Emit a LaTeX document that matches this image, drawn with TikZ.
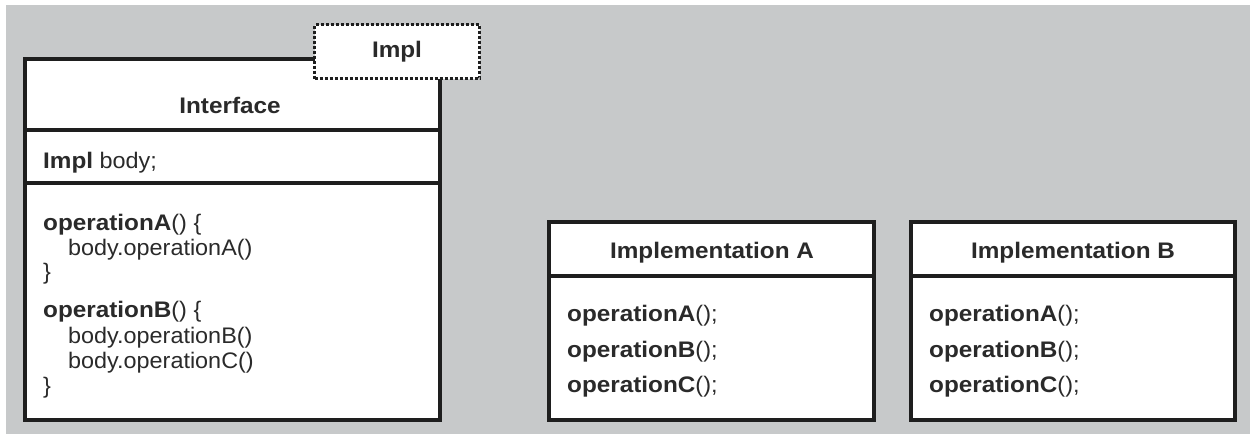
\documentclass[tikz,border=0pt]{standalone}
\usepackage{fontspec}
\setmainfont{Liberation Sans}[FakeStretch=1.04]
\newfontfamily\hbfam{Liberation Sans}[FakeStretch=1.08]
\newcommand{\Bx}[1]{{\hbfam\bfseries #1}}
\definecolor{bggrey}{HTML}{C7C9CA}
\definecolor{ink}{HTML}{1E1E1E}
\definecolor{txt}{HTML}{2A2A2A}
\tikzset{
  boxline/.style={draw=ink, line width=3.6pt, fill=white},
  divline/.style={draw=ink, line width=3.2pt},
  dashbox/.style={draw=ink, line width=3.4pt, fill=white, dash pattern=on 3pt off 2pt},
  tl/.style={anchor=base west, inner sep=0pt, text=txt, font=\fontsize{22.5}{25}\selectfont},
  tc/.style={anchor=base, inner sep=0pt, text=txt, font=\fontsize{22.5}{25}\selectfont},
}
\begin{document}
\begin{tikzpicture}[x=1pt,y=-1pt]
\useasboundingbox (0,0) rectangle (1250,434);
\fill[white] (0,0) rectangle (1250,434);
\fill[bggrey] (6,5) rectangle (1250,434);

% Interface class
\draw[boxline] (25,59) rectangle (440,420);
\draw[divline] (25,130) -- (440,130);
\draw[divline] (25,183) -- (440,183);
\node[dashbox, minimum width=165pt, minimum height=54pt, anchor=north west] (impl) at (313,23) {};
\node[tc] (impltxt) at (397,57) {\Bx{Impl}};
\node[tc] (iface) at (230,113) {\Bx{Interface}};
\node[tl] (field) at (43,168) {\Bx{Impl} body;};
\node[tl] (l1) at (43,230) {\Bx{operationA}() \{};
\node[tl] (l2) at (68,255) {body.operationA()};
\node[tl] (l3) at (43,279) {\}};
\node[tl] (l4) at (43,317) {\Bx{operationB}() \{};
\node[tl] (l5) at (68,343) {body.operationB()};
\node[tl] (l6) at (68,368) {body.operationC()};
\node[tl] (l7) at (43,393) {\}};

% Implementation A
\draw[boxline] (549,222) rectangle (874,420);
\draw[divline] (549,276) -- (874,276);
\node[tc] (ta) at (712,258) {\Bx{Implementation A}};
\node[tl] (a1) at (567,321) {\Bx{operationA}();};
\node[tl] (a2) at (567,357) {\Bx{operationB}();};
\node[tl] (a3) at (567,392) {\Bx{operationC}();};

% Implementation B
\draw[boxline] (911,222) rectangle (1235,420);
\draw[divline] (911,276) -- (1235,276);
\node[tc] (tb) at (1073,258) {\Bx{Implementation B}};
\node[tl] (b1) at (929,321) {\Bx{operationA}();};
\node[tl] (b2) at (929,357) {\Bx{operationB}();};
\node[tl] (b3) at (929,392) {\Bx{operationC}();};
\end{tikzpicture}
\end{document}
